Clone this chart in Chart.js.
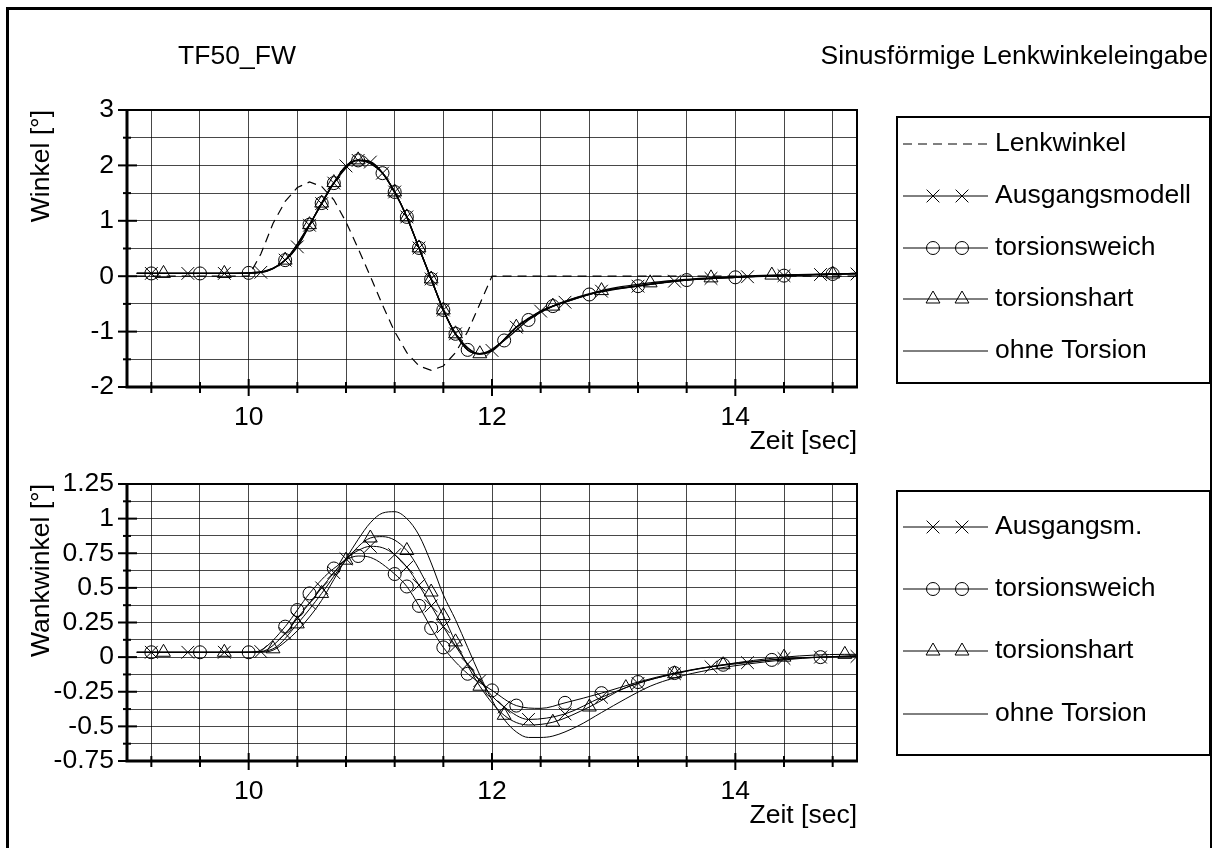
<!DOCTYPE html>
<html>
<head>
<meta charset="utf-8">
<script src="https://cdn.jsdelivr.net/npm/chart.js@4/dist/chart.umd.min.js"></script>
<style>
    html, body { margin: 0; padding: 0; background: #fff; }
    #wrap { position: relative; width: 1216px; height: 848px; overflow: hidden; }
    #frame { position: absolute; left: 6px; top: 7px; width: 1201px; height: 900px;
             border-left: 3px solid #000; border-top: 3px solid #000; border-right: 2px solid #000; }
    canvas { position: absolute; left: 0; top: 0; }
</style>
</head>
<body>
<div id="wrap">
    <div id="frame"></div>
    <canvas id="winkelChart" width="1216" height="848"></canvas>
    <canvas id="wankChart" width="1216" height="848"></canvas>
</div>
<script>
// --- Achsen ---
const xGridTicks = [9.2, 9.6, 10.0, 10.4, 10.8, 11.2, 11.6, 12.0, 12.4, 12.8, 13.2, 13.6, 14.0, 14.4, 14.8];
const xTickLabels = [10, 12, 14];
const winkelTicks = [-2, -1.5, -1, -0.5, 0, 0.5, 1, 1.5, 2, 2.5, 3];
const winkelLabels = [-2, -1, 0, 1, 2, 3];
const wankTicks = [-0.75, -0.625, -0.5, -0.375, -0.25, -0.125, 0, 0.125, 0.25, 0.375, 0.5, 0.625, 0.75, 0.875, 1, 1.125, 1.25];
const wankLabels = [-0.75, -0.5, -0.25, 0, 0.25, 0.5, 0.75, 1, 1.25];

// --- oben: Winkel [°]  ([t, wert]) ---
const lenkwinkel = [[9.08,0],[10.0,0],[10.1,0.4],[10.2,0.95],[10.3,1.35],[10.4,1.6],[10.5,1.7],[10.6,1.62],[10.7,1.38],[10.8,0.98],[10.9,0.5],[11.0,0],
    [11.1,-0.52],[11.2,-1.0],[11.3,-1.38],[11.4,-1.62],[11.5,-1.7],[11.6,-1.62],[11.7,-1.38],[11.8,-1.0],[11.9,-0.5],[12.0,0],[15.0,0]];
const ausgTop = [[9.08,0.05],[9.2,0.05],[9.5,0.05],[9.8,0.05],[10.1,0.07],[10.3,0.29],[10.4,0.53],[10.5,0.92],[10.6,1.31],[10.7,1.68],[10.8,1.99],
    [10.9,2.09],[11.0,2.06],[11.1,1.86],[11.2,1.52],[11.3,1.07],[11.4,0.51],[11.5,-0.05],[11.6,-0.61],[11.7,-1.04],[11.9,-1.40],[12.0,-1.34],
    [12.2,-0.92],[12.4,-0.63],[12.6,-0.47],[12.9,-0.27],[13.2,-0.18],[13.5,-0.09],[13.8,-0.04],[14.1,-0.01],[14.4,0.01],[14.7,0.03],[15.0,0.04]];
const ausgTopMk = [9.2,9.5,9.8,10.1,10.3,10.4,10.5,10.6,10.7,10.8,10.9,11.0,11.1,11.2,11.3,11.4,11.5,11.6,11.7,12.0,12.2,12.4,12.6,12.9,13.2,13.5,13.8,14.1,14.4,14.7,15.0];
const weichTop = [[9.08,0.05],[9.2,0.05],[9.6,0.05],[10.0,0.06],[10.3,0.29],[10.5,0.93],[10.6,1.32],[10.7,1.68],[10.9,2.09],[11.1,1.86],[11.2,1.52],
    [11.3,1.07],[11.4,0.51],[11.5,-0.05],[11.6,-0.61],[11.7,-1.04],[11.8,-1.33],[11.9,-1.40],[12.1,-1.16],[12.3,-0.79],[12.5,-0.54],[12.8,-0.33],
    [13.2,-0.18],[13.6,-0.07],[14.0,-0.02],[14.4,0.01],[14.8,0.04],[15.0,0.05]];
const weichTopMk = [9.2,9.6,10.0,10.3,10.5,10.6,10.7,10.9,11.1,11.2,11.3,11.4,11.5,11.6,11.7,11.8,12.1,12.3,12.5,12.8,13.2,13.6,14.0,14.4,14.8];
const hartTop = [[9.08,0.05],[9.3,0.05],[9.8,0.05],[10.1,0.07],[10.3,0.29],[10.5,0.93],[10.6,1.32],[10.7,1.69],[10.9,2.10],[11.0,2.07],[11.2,1.52],
    [11.3,1.07],[11.4,0.51],[11.5,-0.05],[11.6,-0.61],[11.7,-1.04],[11.9,-1.40],[12.0,-1.35],[12.2,-0.92],[12.5,-0.54],[12.9,-0.26],[13.3,-0.12],
    [13.8,-0.03],[14.3,0.02],[14.8,0.04],[15.0,0.05]];
const hartTopMk = [9.3,9.8,10.3,10.5,10.6,10.7,10.9,11.2,11.3,11.4,11.5,11.6,11.7,11.9,12.2,12.5,12.9,13.3,13.8,14.3,14.8];
const ohneTop = [[9.08,0.05],[10.0,0.05],[10.1,0.07],[10.2,0.14],[10.3,0.29],[10.4,0.53],[10.5,0.92],[10.6,1.31],[10.7,1.68],[10.8,1.99],[10.9,2.09],
    [11.0,2.06],[11.1,1.86],[11.2,1.52],[11.3,1.07],[11.4,0.51],[11.5,-0.05],[11.6,-0.61],[11.7,-1.04],[11.8,-1.33],[11.9,-1.40],[12.0,-1.34],
    [12.1,-1.15],[12.2,-0.92],[12.3,-0.77],[12.4,-0.63],[12.6,-0.47],[12.9,-0.27],[13.2,-0.17],[13.6,-0.07],[14.0,-0.02],[14.5,0.02],[15.0,0.05]];

// --- unten: Wankwinkel [°] ---
const ausgBot = [[9.08,0.035],[9.2,0.035],[9.5,0.035],[9.8,0.035],[10.1,0.04],[10.3,0.17],[10.4,0.28],[10.5,0.39],[10.6,0.5],[10.7,0.61],[10.8,0.71],
    [10.9,0.77],[11.0,0.8],[11.1,0.79],[11.2,0.74],[11.3,0.65],[11.4,0.52],[11.5,0.37],[11.6,0.22],[11.7,0.08],[11.8,-0.05],[11.9,-0.17],[12.0,-0.28],
    [12.1,-0.36],[12.3,-0.45],[12.6,-0.41],[12.9,-0.29],[13.2,-0.19],[13.5,-0.12],[13.8,-0.07],[14.1,-0.04],[14.4,-0.01],[14.7,0.0],[15.0,0.005]];
const ausgBotMk = [9.2,9.5,9.8,10.1,10.3,10.4,10.5,10.6,10.7,10.8,11.0,11.2,11.3,11.4,11.5,11.6,11.7,11.8,11.9,12.1,12.3,12.6,12.9,13.2,13.5,13.8,14.1,14.4,14.7,15.0];
const weichBot = [[9.08,0.035],[9.2,0.035],[9.6,0.035],[10.0,0.035],[10.1,0.05],[10.3,0.22],[10.4,0.34],[10.5,0.46],[10.7,0.64],[10.9,0.73],[11.0,0.72],
    [11.2,0.6],[11.3,0.51],[11.4,0.37],[11.5,0.21],[11.6,0.07],[11.8,-0.12],[12.0,-0.24],[12.2,-0.35],[12.4,-0.37],[12.6,-0.33],[12.9,-0.26],
    [13.2,-0.18],[13.5,-0.115],[13.9,-0.055],[14.3,-0.02],[14.7,0.0],[15.0,0.01]];
const weichBotMk = [9.2,9.6,10.0,10.3,10.4,10.5,10.7,10.9,11.2,11.3,11.4,11.5,11.6,11.8,12.0,12.2,12.6,12.9,13.2,13.5,13.9,14.3,14.7];
const hartBot = [[9.08,0.035],[9.3,0.035],[9.8,0.035],[10.0,0.035],[10.2,0.06],[10.4,0.24],[10.6,0.46],[10.8,0.70],[11.0,0.86],[11.1,0.87],[11.3,0.77],
    [11.5,0.47],[11.6,0.30],[11.7,0.11],[11.9,-0.21],[12.1,-0.42],[12.3,-0.49],[12.5,-0.47],[12.8,-0.36],[13.1,-0.22],[13.5,-0.12],[13.9,-0.055],
    [14.4,0.0],[14.9,0.02],[15.0,0.02]];
const hartBotMk = [9.3,9.8,10.2,10.4,10.6,10.8,11.0,11.3,11.5,11.6,11.7,11.9,12.1,12.5,12.8,13.1,13.5,13.9,14.4,14.9];
const ohneBot = [[9.08,0.035],[10.0,0.035],[10.1,0.035],[10.2,0.05],[10.3,0.11],[10.4,0.19],[10.5,0.29],[10.6,0.41],[10.7,0.56],[10.8,0.71],[10.9,0.85],
    [11.0,0.97],[11.1,1.04],[11.2,1.05],[11.3,1.0],[11.4,0.88],[11.5,0.68],[11.6,0.45],[11.7,0.27],[11.8,0.07],[11.9,-0.13],[12.0,-0.31],[12.1,-0.45],
    [12.2,-0.54],[12.3,-0.58],[12.4,-0.58],[12.5,-0.57],[12.7,-0.5],[12.9,-0.4],[13.1,-0.3],[13.3,-0.21],[13.5,-0.15],[13.8,-0.09],[14.1,-0.05],
    [14.4,-0.02],[14.7,0.0],[15.0,0.01]];

const FONT = "'Liberation Sans', Arial, Helvetica, sans-serif";
Chart.defaults.font.family = FONT;
Chart.defaults.font.size = 26.5;
Chart.defaults.color = '#000';

const GRID = 'rgba(0,0,0,0.72)';
const MARK_R = { crossRot: 9, circle: 6.5, triangle: 8 };

const pts = arr => arr.map(p => ({ x: p[0], y: p[1] }));

const serie = (label, arr, style, marks, width) => ({
    label,
    data: pts(arr),
    borderColor: '#000',
    borderWidth: width,
    backgroundColor: 'transparent',
    cubicInterpolationMode: 'monotone',
    pointStyle: style || 'circle',
    pointRadius: ctx => (marks && ctx.raw && marks.includes(ctx.raw.x)) ? MARK_R[style] : 0,
    pointHoverRadius: 0,
    pointBorderColor: '#000',
    pointBackgroundColor: 'transparent',
    pointBorderWidth: 1,
    legendStyle: marks ? style : null
});

// Rahmen, Ticks, Legendenkasten, Kopfzeile
const plotDeko = {
    id: 'plotDeko',
    afterDraw(chart, args, opts) {
        const { ctx, chartArea: a, scales } = chart;
        ctx.save();
        ctx.strokeStyle = '#000';
        ctx.lineWidth = 2;
        ctx.strokeRect(a.left, a.top, a.right - a.left, a.bottom - a.top);
        ctx.lineWidth = 3;
        ctx.beginPath();
        ctx.moveTo(a.left, a.top - 1);
        ctx.lineTo(a.left, a.bottom);
        ctx.lineTo(a.right + 1, a.bottom);
        ctx.stroke();

        ctx.lineWidth = 2;
        scales.x.ticks.forEach(t => {
            const px = scales.x.getPixelForValue(t.value);
            const major = xTickLabels.includes(t.value);
            ctx.beginPath();
            ctx.moveTo(px, a.bottom - (major ? 8 : 5));
            ctx.lineTo(px, a.bottom + (major ? 9 : 6));
            ctx.stroke();
        });
        scales.y.ticks.forEach(t => {
            const py = scales.y.getPixelForValue(t.value);
            const major = opts.yMajor.includes(t.value);
            ctx.beginPath();
            ctx.moveTo(a.left - (major ? 9 : 4), py);
            ctx.lineTo(a.left + (major ? 10 : 4), py);
            ctx.stroke();
        });

        // Legende
        const [bx1, by1, bx2, by2] = opts.box;
        ctx.lineWidth = 2;
        ctx.strokeRect(bx1, by1, bx2 - bx1, by2 - by1);
        chart.data.datasets.forEach((ds, i) => {
            const y = opts.rows[i];
            ctx.save();
            ctx.lineWidth = 1;
            ctx.strokeStyle = '#000';
            ctx.setLineDash(ds.borderDash || []);
            ctx.beginPath();
            ctx.moveTo(bx1 + 6, y);
            ctx.lineTo(bx1 + 91, y);
            ctx.stroke();
            ctx.setLineDash([]);
            if (ds.legendStyle) {
                ctx.fillStyle = 'rgba(0,0,0,0)';
                [bx1 + 36, bx1 + 65].forEach(mx => {
                    Chart.helpers.drawPoint(ctx, { pointStyle: ds.legendStyle, radius: MARK_R[ds.legendStyle], rotation: 0, borderWidth: 1 }, mx, y);
                });
            }
            ctx.restore();
            ctx.font = `26.5px ${FONT}`;
            ctx.fillStyle = '#000';
            ctx.textBaseline = 'middle';
            ctx.textAlign = 'left';
            ctx.fillText(ds.label, bx1 + 98, y);
        });

        if (opts.header) {
            ctx.font = `26.5px ${FONT}`;
            ctx.fillStyle = '#000';
            ctx.textBaseline = 'alphabetic';
            ctx.textAlign = 'center';
            ctx.fillText('TF50_FW', 237, 64);
            ctx.textAlign = 'right';
            ctx.fillText('Sinusförmige Lenkwinkeleingabe', 1208, 64);
        }
        ctx.restore();
    }
};

const xScale = () => ({
    type: 'linear',
    min: 9,
    max: 15,
    afterBuildTicks: s => { s.ticks = xGridTicks.map(v => ({ value: v })); },
    afterFit: s => { s.height = 73; },
    ticks: {
        autoSkip: false, maxRotation: 0, minRotation: 0, padding: 15,
        callback: v => xTickLabels.includes(v) ? String(v) : ''
    },
    grid: { color: GRID, lineWidth: 1, drawTicks: false },
    border: { display: false },
    title: { display: true, text: 'Zeit [sec]', align: 'end', padding: { top: 0, bottom: 2 } }
});

const yScale = (min, max, ticks, labels, title) => ({
    type: 'linear',
    min, max,
    afterBuildTicks: s => { s.ticks = ticks.map(v => ({ value: v })); },
    afterFit: s => { s.width = 117; },
    ticks: {
        autoSkip: false, padding: 13,
        callback: v => labels.includes(v) ? String(v) : ''
    },
    grid: { color: GRID, lineWidth: 1, drawTicks: false },
    border: { display: false },
    title: { display: true, text: title, align: 'end', padding: { top: 16, bottom: 0 } }
});

new Chart(document.getElementById('winkelChart'), {
    type: 'line',
    data: {
        datasets: [
            Object.assign(serie('Lenkwinkel', lenkwinkel, null, null, 1.2), { borderDash: [9, 6], cubicInterpolationMode: 'default', tension: 0 }),
            serie('Ausgangsmodell', ausgTop, 'crossRot', ausgTopMk, 1.3),
            serie('torsionsweich', weichTop, 'circle', weichTopMk, 1.3),
            serie('torsionshart', hartTop, 'triangle', hartTopMk, 1.3),
            serie('ohne Torsion', ohneTop, null, null, 1.3)
        ]
    },
    options: {
        responsive: false,
        animation: false,
        layout: { padding: { left: 10, right: 359, top: 110, bottom: 388 } },
        plugins: {
            legend: { display: false },
            tooltip: { enabled: false },
            plotDeko: { yMajor: winkelLabels, box: [897, 117, 1210, 383], rows: [144, 196, 248, 299, 351], header: true }
        },
        scales: {
            x: xScale(),
            y: yScale(-2, 3, winkelTicks, winkelLabels, 'Winkel [°]')
        }
    },
    plugins: [plotDeko]
});

new Chart(document.getElementById('wankChart'), {
    type: 'line',
    data: {
        datasets: [
            serie('Ausgangsm.', ausgBot, 'crossRot', ausgBotMk, 1),
            serie('torsionsweich', weichBot, 'circle', weichBotMk, 1),
            serie('torsionshart', hartBot, 'triangle', hartBotMk, 1),
            serie('ohne Torsion', ohneBot, null, null, 1)
        ]
    },
    options: {
        responsive: false,
        animation: false,
        layout: { padding: { left: 10, right: 359, top: 484, bottom: 14 } },
        plugins: {
            legend: { display: false },
            tooltip: { enabled: false },
            plotDeko: { yMajor: wankLabels, box: [897, 491, 1210, 755], rows: [527, 589, 651, 714], header: false }
        },
        scales: {
            x: xScale(),
            y: yScale(-0.75, 1.25, wankTicks, wankLabels, 'Wankwinkel [°]')
        }
    },
    plugins: [plotDeko]
});
</script>
</body>
</html>
